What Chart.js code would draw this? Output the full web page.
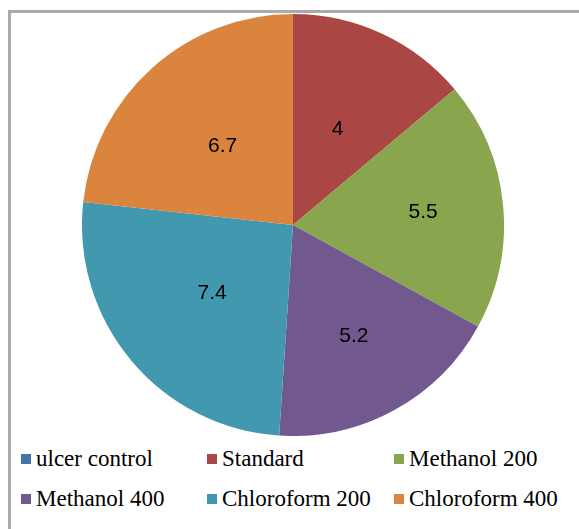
<!DOCTYPE html>
<html>
<head>
<meta charset="utf-8">
<script src="https://cdn.jsdelivr.net/npm/chart.js@4"></script>
<style>
  body { margin: 0; background: #fff; width: 579px; height: 529px; overflow: hidden; position: relative; }
  #frame { position: absolute; left: 8px; top: 10px; width: 700px; height: 700px; border: 3px solid #aaa; box-sizing: border-box; }
  #pieBox { position: absolute; left: 82px; top: 14px; width: 422px; height: 422px; }
  .leg { position: absolute; font-family: "Liberation Serif", "DejaVu Serif", "Times New Roman", Times, serif; font-size: 23px; color: #000; white-space: nowrap; line-height: 24px; }
  .leg span { display: inline-block; width: 10px; height: 10px; margin-right: 5px; vertical-align: 2px; }
</style>
</head>
<body>
<div id="frame"></div>
<div id="pieBox"><canvas id="pieChart"></canvas></div>
<div id="legend"></div>
<script>
// Data
const groups = ["ulcer control", "Standard", "Methanol 200", "Methanol 400", "Chloroform 200", "Chloroform 400"];
const values = [0, 4, 5.5, 5.2, 7.4, 6.7];
const colors = ["#4572A7", "#AA4643", "#89A54E", "#71588F", "#4198AF", "#DB843D"];

// how far out (fraction of radius) each value label sits
const labelPos = [0.5, 0.5, 0.62, 0.6, 0.5, 0.5];

// Draw value labels inside the slices
const sliceLabels = {
    id: "sliceLabels",
    afterDatasetsDraw(chart) {
        const ctx = chart.ctx;
        const arcs = chart.getDatasetMeta(0).data;
        ctx.save();
        ctx.font = "21px 'Liberation Sans', sans-serif";
        ctx.fillStyle = "#000";
        ctx.textAlign = "center";
        ctx.textBaseline = "middle";
        arcs.forEach((arc, i) => {
            if (!values[i]) return;
            const p = arc.getProps(["x", "y", "startAngle", "endAngle", "outerRadius"], true);
            const mid = (p.startAngle + p.endAngle) / 2;
            const r = p.outerRadius * labelPos[i];
            ctx.fillText(String(values[i]), p.x + Math.cos(mid) * r, p.y + Math.sin(mid) * r);
        });
        ctx.restore();
    }
};

new Chart(document.getElementById("pieChart"), {
    type: "pie",
    data: {
        labels: groups,
        datasets: [{
            data: values,
            backgroundColor: colors,
            borderWidth: 0
        }]
    },
    options: {
        responsive: true,
        maintainAspectRatio: false,
        animation: false,
        layout: { padding: 0 },
        plugins: {
            legend: { display: false },
            tooltip: { enabled: false }
        }
    },
    plugins: [sliceLabels]
});

// Legend in a fixed 3-column grid, like the original
const legendCols = [21, 207, 394];
const legendRows = [447, 487];
const legend = document.getElementById("legend");
groups.forEach((name, i) => {
    const div = document.createElement("div");
    div.className = "leg";
    div.style.left = legendCols[i % 3] + "px";
    div.style.top = legendRows[Math.floor(i / 3)] + "px";
    div.innerHTML = `<span style="background:${colors[i]}"></span>${name}`;
    legend.appendChild(div);
});
</script>
</body>
</html>
